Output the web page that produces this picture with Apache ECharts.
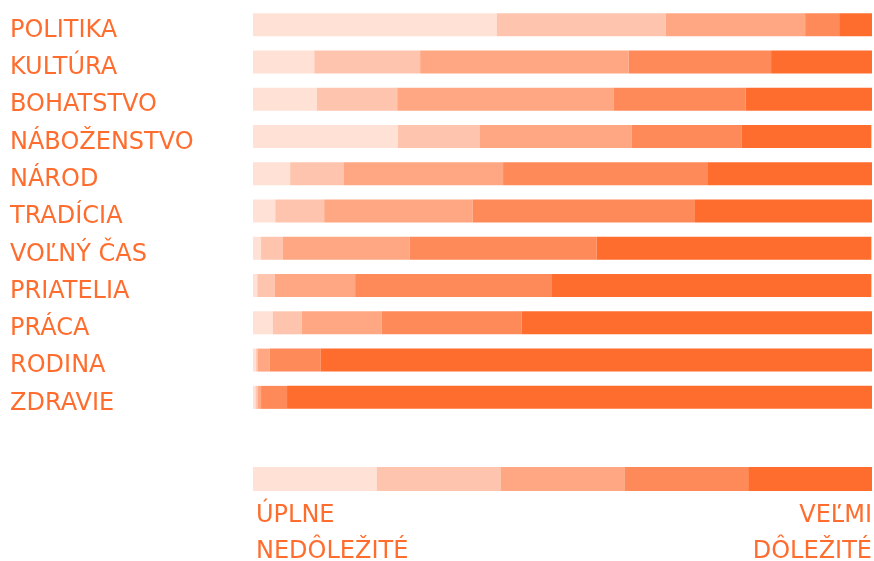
<html lang="sk">

<head>
	<meta charset="utf-8">
	<title>Hodnoty</title>
	<script src="https://cdn.jsdelivr.net/npm/echarts@6/dist/echarts.min.js"></script>
	<style>
		html, body { margin: 0; padding: 0; background: #fff; }
		#chart { width: 874px; height: 561px; }
	</style>
</head>

<body>
	<div id="chart"></div>
	<script>
		// oblasti zhora nadol
		var categories = ['POLITIKA', 'KULTÚRA', 'BOHATSTVO', 'NÁBOŽENSTVO', 'NÁROD', 'TRADÍCIA',
			'VOĽNÝ ČAS', 'PRIATELIA', 'PRÁCA', 'RODINA', 'ZDRAVIE'];
		// podiely odpovedí v % (úplne nedôležité -> veľmi dôležité)
		var level1 = [39.4, 9.9, 10.3, 23.4, 6.0, 3.6, 1.3, 0.7, 3.2, 0.5, 0.4];
		var level2 = [27.3, 17.1, 13.0, 13.2, 8.7, 7.9, 3.5, 2.8, 4.7, 0.3, 0.4];
		var level3 = [22.5, 33.7, 35.0, 24.6, 25.7, 24.0, 20.5, 13.0, 12.9, 1.9, 0.5];
		var level4 = [5.5, 23.0, 21.3, 17.7, 33.1, 35.9, 30.2, 31.8, 22.6, 8.2, 4.2];
		var level5 = [5.3, 16.3, 20.4, 21.0, 26.5, 28.6, 44.4, 51.6, 56.6, 89.1, 94.5];
		// legenda - päť rovnakých dielov
		var scaleValues = [20, 20, 20, 20, 20];
		var scaleLeft = ['ÚPLNE', 'NEDÔLEŽITÉ'];
		var scaleRight = ['VEĽMI', 'DÔLEŽITÉ'];

		var colors = ['#FFE1D6', '#FFC4AD', '#FFA782', '#FF8A59', '#FF6D2E'];
		var textColor = '#FF6D2E';
		var font = 'DejaVu Sans';
		var levels = [level1, level2, level3, level4, level5];

		var chart = echarts.init(document.getElementById('chart'), null, { renderer: 'canvas' });

		var series = [];
		for (var i = 0; i < levels.length; i++) {
			series.push({
				type: 'bar', stack: 'main', xAxisIndex: 0, yAxisIndex: 0,
				data: levels[i], barWidth: 23, silent: true,
				itemStyle: { color: colors[i] }
			});
		}
		for (var j = 0; j < scaleValues.length; j++) {
			series.push({
				type: 'bar', stack: 'scale', xAxisIndex: 1, yAxisIndex: 1,
				data: [scaleValues[j]], barWidth: 24, silent: true,
				itemStyle: { color: colors[j] }
			});
		}

		var graphic = [];
		for (var k = 0; k < 2; k++) {
			graphic.push({
				type: 'text', left: 256, top: 504 + k * 36, silent: true,
				style: { text: scaleLeft[k], fill: textColor, font: '24px "' + font + '"' }
			});
			graphic.push({
				type: 'text', right: 2, top: 504 + k * 36, silent: true,
				style: { text: scaleRight[k], fill: textColor, font: '24px "' + font + '"', align: 'right' }
			});
		}

		chart.setOption({
			animation: false,
			grid: [
				{ left: 253, right: 2, top: 6, height: 410 },
				{ left: 253, right: 2, top: 467, height: 24 }
			],
			xAxis: [
				{ type: 'value', gridIndex: 0, min: 0, max: 100, show: false },
				{ type: 'value', gridIndex: 1, min: 0, max: 100, show: false }
			],
			yAxis: [
				{
					type: 'category', gridIndex: 0, data: categories, inverse: true,
					axisLine: { show: false }, axisTick: { show: false },
					axisLabel: {
						align: 'left', margin: 243, color: textColor,
						fontFamily: font, fontSize: 24,
						verticalAlign: 'top', lineHeight: 12
					}
				},
				{ type: 'category', gridIndex: 1, data: ['škála'], show: false }
			],
			graphic: graphic,
			series: series
		});
	</script>
</body>

</html>
